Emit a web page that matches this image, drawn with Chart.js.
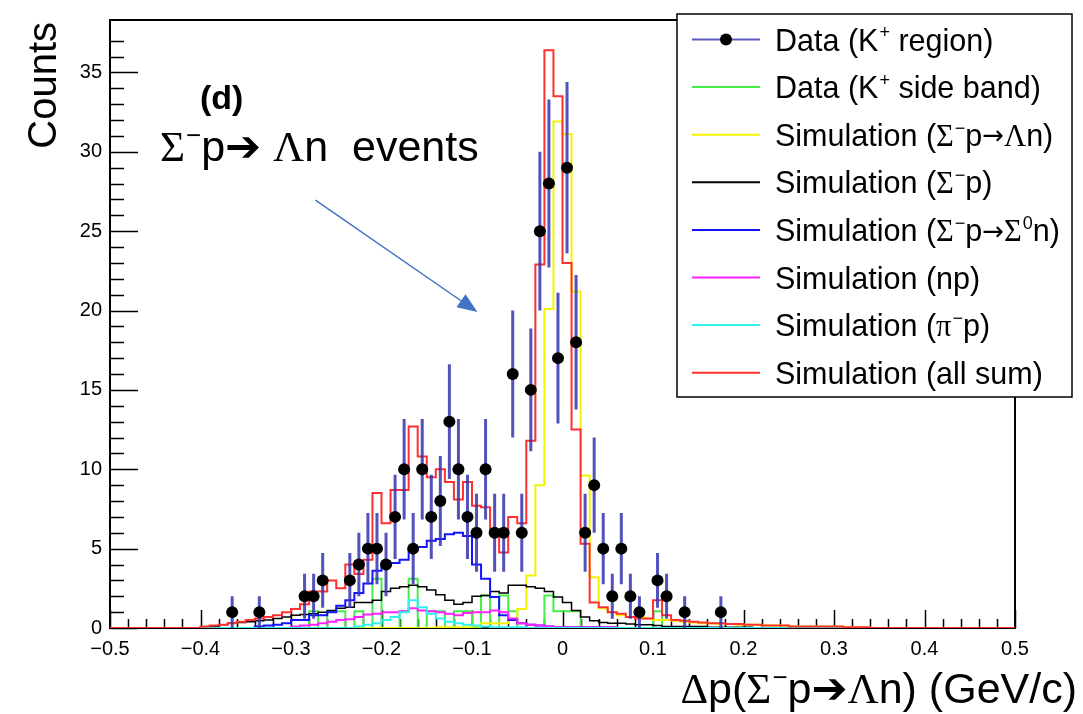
<!DOCTYPE html>
<html>
<head>
<meta charset="utf-8">
<script src="https://cdn.jsdelivr.net/npm/chart.js@4.4.1/dist/chart.umd.min.js"></script>
<style>
html, body { margin: 0; padding: 0; background: #fff; }
canvas { display: block; }
</style>
</head>
<body>
<canvas id="histCanvas" width="1083" height="714"></canvas>
<script>
//
// binning shared by all the simulation histograms (0.01 GeV/c bins from -0.40)
//
var binLow = -0.40;
var binWidth = 0.01;

// Simulation (all sum)
var sumCounts = [0.1, 0.15, 0.2, 0.3, 0.4, 0.5, 0.6, 0.7, 0.8, 1.0,
	1.2, 1.5, 2.3, 2.3, 3.0, 2.5, 4.0, 3.4, 4.3, 8.5,
	6.6, 8.7, 8.7, 12.7, 10.8, 9.5, 10.0, 9.2, 8.1, 9.2,
	7.7, 7.6, 6.2, 4.75, 7.0, 6.6, 11.8, 22.9, 36.4, 33.5,
	23.0, 12.5, 5.3, 1.6, 1.3, 1.0, 0.9, 0.7, 0.6, 0.6,
	1.75, 0.8, 0.5, 0.45, 0.4, 0.35, 0.3, 0.3, 0.25, 0.25,
	0.2, 0.2, 0.15, 0.15, 0.15, 0.1, 0.1, 0.1, 0.1, 0.1,
	0.1, 0.05, 0.05, 0.05, 0];
// Simulation (Sigma- p -> Lambda n)
var lambdaCounts = [0, 0, 0, 0, 0, 0, 0, 0, 0, 0,
	0, 0, 0, 0, 0, 0, 0, 0, 0, 0,
	0, 0, 0, 0, 0, 0, 0.05, 0.05, 0.05, 0.05,
	0.1, 0.3, 0.3, 0.3, 0.5, 1.2, 3.3, 9.0, 20.1, 31.9,
	31.1, 21.2, 9.6, 3.2, 1.25, 1.0, 0.8, 0.7, 0.7, 0.6,
	0.5, 0.5, 0.45, 0.4, 0.35, 0.3, 0.3, 0.25, 0.25, 0.2,
	0.2, 0.2, 0.15, 0.15, 0.15, 0.1, 0.1, 0.1, 0.1, 0.1,
	0.1, 0.05, 0.05, 0.05, 0];
// Simulation (Sigma- p)
var elasticCounts = [0, 0.1, 0.2, 0.3, 0.35, 0.4, 0.45, 0.5, 0.6, 0.7,
	0.8, 0.85, 0.9, 1.0, 1.1, 1.25, 1.3, 1.6, 1.6, 1.75,
	2.3, 2.5, 2.6, 2.7, 2.6, 2.4, 2.1, 1.75, 1.5, 1.6,
	2.0, 2.05, 2.3, 2.2, 2.7, 2.7, 2.6, 2.5, 2.3, 1.95,
	1.6, 1.1, 0.7, 0.45, 0.35, 0.3, 0.3, 0.25, 0.2, 0.2,
	0.15, 0.1, 0.1, 0.1, 0.1, 0.1, 0.05, 0.05, 0.05, 0.05,
	0.05, 0, 0, 0, 0, 0, 0, 0, 0, 0,
	0, 0, 0, 0, 0];
// Simulation (Sigma- p -> Sigma0 n)
var sigmaZeroCounts = [0, 0, 0, 0, 0, 0, 0.1, 0.15, 0.2, 0.3,
	0.5, 0.5, 0.8, 0.8, 1.0, 1.4, 1.75, 2.2, 2.8, 3.6,
	3.9, 4.1, 4.3, 5.0, 5.1, 5.5, 5.6, 5.9, 6.0, 5.8,
	4.0, 3.1, 1.95, 0.8, 0.5, 0.3, 0.2, 0.15, 0.1, 0.05,
	0.05, 0.05, 0.05, 0.05, 0.05, 0.05, 0, 0, 0, 0,
	0, 0, 0, 0, 0, 0, 0, 0, 0, 0,
	0, 0, 0, 0, 0, 0, 0, 0, 0, 0,
	0, 0, 0, 0, 0];
// Simulation (np)
var npCounts = [0, 0, 0, 0, 0, 0, 0, 0, 0, 0,
	0.1, 0.15, 0.2, 0.3, 0.4, 0.5, 0.55, 0.7, 0.85, 0.9,
	1.0, 1.0, 1.05, 1.25, 1.1, 1.05, 1.0, 0.9, 0.8, 0.95,
	1.0, 1.0, 1.1, 1.0, 0.6, 0.3, 0.2, 0.15, 0.1, 0.05,
	0.05, 0.05, 0.05, 0.05, 0.05, 0.05, 0, 0, 0, 0,
	0, 0, 0, 0, 0, 0, 0, 0, 0, 0,
	0, 0, 0, 0, 0, 0, 0, 0, 0, 0,
	0, 0, 0, 0, 0];
// Simulation (pi- p)
var pipCounts = [0, 0, 0, 0, 0, 0, 0, 0, 0, 0,
	0, 0, 0, 0, 0, 0, 0, 0.1, 0.2, 0.3,
	0.5, 0.7, 1.0, 1.75, 1.3, 0.9, 0.6, 0.4, 0.3, 0.2,
	0.15, 0.1, 0.05, 0.05, 0.05, 0.05, 0, 0, 0, 0,
	0, 0, 0, 0, 0, 0, 0, 0, 0, 0,
	0, 0, 0, 0, 0, 0, 0, 0, 0, 0,
	0, 0, 0, 0, 0, 0, 0, 0, 0, 0,
	0, 0, 0, 0, 0];
// Data (K+ side band)
var sideBandCounts = [0, 0, 0, 0, 0, 0, 0, 0, 0, 0,
	0, 0, 1.05, 0, 1.05, 1.05, 0, 1.05, 0, 3.1,
	0, 0, 1.05, 3.1, 0, 1.05, 1.05, 0, 1.05, 1.05,
	0, 2.05, 0, 2.05, 1.05, 0, 0, 0, 2.05, 1.05,
	1.05, 1.05, 0, 0, 0, 0, 0, 0, 0, 0,
	1.05, 0, 0, 0, 0, 0, 0, 0, 0, 0,
	0, 0, 0, 0, 0, 0, 0, 0, 0, 0,
	0, 0, 0, 0, 0];

// Data (K+ region): bin centres, counts and errors
var dataCenters = [-0.365, -0.335, -0.285, -0.275, -0.265, -0.235, -0.225, -0.215, -0.205, -0.195,
	-0.185, -0.175, -0.165, -0.155, -0.145, -0.135, -0.125, -0.115, -0.105, -0.095,
	-0.085, -0.075, -0.065, -0.055, -0.045, -0.035, -0.025, -0.015, -0.005, 0.005,
	0.015, 0.025, 0.035, 0.045, 0.055, 0.065, 0.075, 0.085, 0.105, 0.115,
	0.135, 0.175];
var dataCounts = [1, 1, 2, 2, 3, 3, 4, 5, 5, 4,
	7, 10, 5, 10, 7, 8, 13, 10, 7, 6,
	10, 6, 6, 16, 6, 15, 25, 28, 17, 29,
	18, 6, 9, 5, 2, 5, 2, 1, 3, 2,
	1, 1];
var dataErrors = [1, 1, 1.41, 1.41, 1.73, 1.73, 2, 2.24, 2.24, 2,
	2.65, 3.16, 2.24, 3.16, 2.65, 2.83, 3.61, 3.16, 2.65, 2.45,
	3.16, 2.45, 2.45, 4, 2.45, 3.87, 5, 5.29, 4.12, 5.39,
	4.24, 2.45, 3, 2.24, 1.41, 2.24, 1.41, 1, 1.73, 1.41,
	1, 1];

var xTickValues = [-0.5, -0.4, -0.3, -0.2, -0.1, 0, 0.1, 0.2, 0.3, 0.4, 0.5];
var yTickValues = [0, 5, 10, 15, 20, 25, 30, 35];
var xMin = -0.5, xMax = 0.5, yMin = 0, yMax = 38.3;

var legendLabels = ["Data (K\u207A region)", "Data (K\u207A side band)", "Simulation (\u03A3\u207Bp\u2192\u039Bn)",
	"Simulation (\u03A3\u207Bp)", "Simulation (\u03A3\u207Bp\u2192\u03A3\u2070n)", "Simulation (np)",
	"Simulation (\u03C0\u207Bp)", "Simulation (all sum)"];
var legendColors = ["#5a5ac0", "#44ee44", "#f4f400", "#000000", "#1414ff", "#ff22ff", "#33f0f0", "#ff3030"];

var SANS = '"Liberation Sans", Arial, "DejaVu Sans", sans-serif';
var SERIF = '"Liberation Serif", "Times New Roman", "DejaVu Serif", serif';
var GREEK = "\u03A3\u039B\u03C0\u0394";
var SUPS = { "\u207A": "+", "\u207B": "\u2212", "\u2070": "0" };

function histPoints(values) {
	var pts = [{x: xMin, y: 0}];
	for (var k = 0; k < values.length; k++) {
		pts.push({x: binLow + k * binWidth, y: values[k]});
	}
	var hi = binLow + values.length * binWidth;
	pts.push({x: hi, y: values[values.length - 1]});
	pts.push({x: hi, y: 0});
	pts.push({x: xMax, y: 0});
	return pts;
}

function histDataset(label, values, color, width) {
	return {
		type: 'line',
		label: label,
		data: histPoints(values),
		borderColor: color,
		borderWidth: width,
		pointRadius: 0,
		pointHitRadius: 0,
		fill: false,
		stepped: true,
		tension: 0
	};
}

// draws text with greek letters in serif, a thin arrow and small raised superscripts
function drawRich(ctx, text, x, y, size) {
	var cx = x;
	for (var i = 0; i < text.length; i++) {
		var ch = text[i];
		if (SUPS[ch]) {
			ctx.font = Math.round(size * 0.6) + 'px ' + SANS;
			ctx.fillText(SUPS[ch], cx + 1, y - size * 0.4);
			cx += ctx.measureText(SUPS[ch]).width + 1;
		} else if (ch === '\u2192') {
			ctx.font = Math.round(size * 0.85) + 'px "DejaVu Sans", sans-serif';
			ctx.fillText(ch, cx, y - size * 0.04);
			cx += ctx.measureText(ch).width;
		} else if (GREEK.indexOf(ch) >= 0) {
			ctx.font = size + 'px ' + SERIF;
			ctx.fillText(ch, cx, y);
			cx += ctx.measureText(ch).width;
		} else {
			ctx.font = size + 'px ' + SANS;
			ctx.fillText(ch, cx, y);
			cx += ctx.measureText(ch).width;
		}
	}
	return cx - x;
}

function richWidth(ctx, text, size) {
	ctx.save();
	ctx.globalAlpha = 0;
	var w = drawRich(ctx, text, 0, 0, size);
	ctx.restore();
	return w;
}

var framePlugin = {
	id: 'frame',
	beforeDatasetsDraw: function(chart) {
		var ctx = chart.ctx, a = chart.chartArea;
		var xs = chart.scales.x, ys = chart.scales.y;
		ctx.save();
		ctx.strokeStyle = '#000';
		ctx.lineWidth = 2;
		ctx.strokeRect(a.left, a.top, a.right - a.left, a.bottom - a.top);
		ctx.lineWidth = 1.5;
		ctx.beginPath();
		// y axis ticks, pointing inwards
		for (var v = yMin; v <= 37; v++) {
			var py = Math.round(ys.getPixelForValue(v)) + 0.5;
			var len = (v % 5 === 0) ? 28 : 14;
			ctx.moveTo(a.left, py);
			ctx.lineTo(a.left + len, py);
		}
		// x axis ticks
		for (var j = 0; j <= 50; j++) {
			var xv = xMin + j * 0.02;
			var px = Math.round(xs.getPixelForValue(xv)) + 0.5;
			var l = (j % 5 === 0) ? 18 : 9;
			ctx.moveTo(px, a.bottom);
			ctx.lineTo(px, a.bottom - l);
		}
		ctx.stroke();
		ctx.restore();
	}
};

var errorBarPlugin = {
	id: 'errorBars',
	beforeDatasetDraw: function(chart, args) {
		if (args.index !== 0) return;
		var ctx = chart.ctx, xs = chart.scales.x, ys = chart.scales.y;
		ctx.save();
		ctx.strokeStyle = 'rgba(52,52,176,0.85)';
		ctx.lineWidth = 3;
		ctx.beginPath();
		for (var i = 0; i < dataCenters.length; i++) {
			var px = xs.getPixelForValue(dataCenters[i]);
			ctx.moveTo(px, ys.getPixelForValue(Math.max(dataCounts[i] - dataErrors[i], 0)));
			ctx.lineTo(px, ys.getPixelForValue(dataCounts[i] + dataErrors[i]));
		}
		ctx.stroke();
		ctx.restore();
	}
};

var overlayPlugin = {
	id: 'overlay',
	afterDraw: function(chart) {
		var ctx = chart.ctx, xs = chart.scales.x, ys = chart.scales.y;
		ctx.save();
		ctx.fillStyle = '#000';
		ctx.textBaseline = 'alphabetic';

		// axis titles
		ctx.save();
		ctx.translate(56, 22);
		ctx.rotate(-Math.PI / 2);
		ctx.font = '40px ' + SANS;
		ctx.textAlign = 'right';
		ctx.fillText('Counts', 0, 0);
		ctx.restore();

		var xTitle = '\u0394p(\u03A3\u207Bp\u2794\u039Bn) (GeV/c)';
		var w = richWidth(ctx, xTitle, 43);
		ctx.textAlign = 'left';
		drawRich(ctx, xTitle, 1077 - w, 703, 43);

		// annotation
		ctx.font = 'bold 34px ' + SANS;
		ctx.fillText('(d)', xs.getPixelForValue(-0.4006), ys.getPixelForValue(32.7));
		drawRich(ctx, '\u03A3\u207Bp\u2794 \u039Bn  events', xs.getPixelForValue(-0.4448), ys.getPixelForValue(29.4), 43);

		// arrow
		var x0 = xs.getPixelForValue(-0.273), y0 = ys.getPixelForValue(26.95);
		var x1 = xs.getPixelForValue(-0.094), y1 = ys.getPixelForValue(19.9);
		var ang = Math.atan2(y1 - y0, x1 - x0);
		ctx.strokeStyle = '#4472c4';
		ctx.fillStyle = '#4472c4';
		ctx.lineWidth = 1.5;
		ctx.beginPath();
		ctx.moveTo(x0, y0);
		ctx.lineTo(x1 - 16 * Math.cos(ang), y1 - 16 * Math.sin(ang));
		ctx.stroke();
		ctx.beginPath();
		ctx.moveTo(x1, y1);
		ctx.lineTo(x1 - 20 * Math.cos(ang) + 8 * Math.sin(ang), y1 - 20 * Math.sin(ang) - 8 * Math.cos(ang));
		ctx.lineTo(x1 - 20 * Math.cos(ang) - 8 * Math.sin(ang), y1 - 20 * Math.sin(ang) + 8 * Math.cos(ang));
		ctx.closePath();
		ctx.fill();

		// legend box
		ctx.fillStyle = '#fff';
		ctx.fillRect(677, 14, 395, 383);
		ctx.strokeStyle = '#000';
		ctx.lineWidth = 1.5;
		ctx.strokeRect(677, 14, 395, 383);
		for (var j = 0; j < legendLabels.length; j++) {
			var cy = 39.5 + j * 47.6;
			ctx.strokeStyle = legendColors[j];
			ctx.lineWidth = 2;
			ctx.beginPath();
			ctx.moveTo(692, cy);
			ctx.lineTo(760, cy);
			ctx.stroke();
			if (j === 0) {
				ctx.fillStyle = '#000';
				ctx.beginPath();
				ctx.arc(726, cy, 6, 0, Math.PI * 2);
				ctx.fill();
			}
			ctx.fillStyle = '#000';
			drawRich(ctx, legendLabels[j], 775, cy + 11, 30.5);
		}
		ctx.restore();
	}
};

function fmtX(value) {
	if (Math.abs(value) < 1e-9) return '0';
	return value.toFixed(1).replace('-', '\u2212');
}

var datasets = [{
	type: 'scatter',
	label: legendLabels[0],
	data: dataCenters.map(function(c, i) { return {x: c, y: dataCounts[i]}; }),
	pointRadius: 6,
	pointHoverRadius: 6,
	pointBackgroundColor: '#000',
	pointBorderWidth: 0,
	showLine: false
},
	histDataset(legendLabels[7], sumCounts, legendColors[7], 2),
	histDataset(legendLabels[6], pipCounts, legendColors[6], 2),
	histDataset(legendLabels[5], npCounts, legendColors[5], 2),
	histDataset(legendLabels[4], sigmaZeroCounts, legendColors[4], 2),
	histDataset(legendLabels[3], elasticCounts, legendColors[3], 1.5),
	histDataset(legendLabels[2], lambdaCounts, legendColors[2], 2),
	histDataset(legendLabels[1], sideBandCounts, legendColors[1], 2)
];

var tickFont = { family: SANS, size: 20 };

var myChart = new Chart(document.getElementById('histCanvas'), {
	type: 'line',
	data: { datasets: datasets },
	options: {
		responsive: false,
		animation: false,
		devicePixelRatio: 1,
		layout: { padding: { top: 14, right: 68, bottom: 0, left: 0 } },
		plugins: { legend: { display: false }, tooltip: { enabled: false } },
		scales: {
			x: {
				type: 'linear',
				min: xMin,
				max: xMax,
				afterFit: function(s) { s.height = 86; },
				afterBuildTicks: function(s) { s.ticks = xTickValues.map(function(v) { return {value: v}; }); },
				grid: { display: false, drawTicks: false },
				border: { display: false },
				ticks: { font: tickFont, color: '#000', padding: 9, maxRotation: 0, autoSkip: false, callback: fmtX }
			},
			y: {
				type: 'linear',
				min: yMin,
				max: yMax,
				afterFit: function(s) { s.width = 110; },
				afterBuildTicks: function(s) { s.ticks = yTickValues.map(function(v) { return {value: v}; }); },
				grid: { display: false, drawTicks: false },
				border: { display: false },
				ticks: { font: tickFont, color: '#000', padding: 8, autoSkip: false, callback: function(v) { return String(v); } }
			}
		}
	},
	plugins: [framePlugin, errorBarPlugin, overlayPlugin]
});
</script>
</body>
</html>
